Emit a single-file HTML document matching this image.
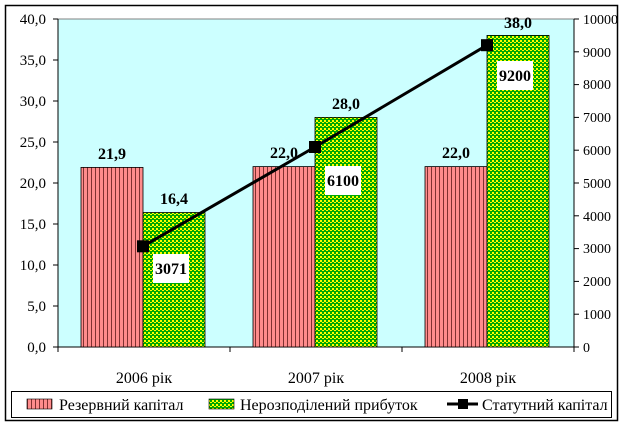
<!DOCTYPE html>
<html><head><meta charset="utf-8"><style>body{margin:0;background:#fff}svg{display:block}text{font-family:"Liberation Serif","DejaVu Serif",serif}</style></head><body>
<svg width="625" height="427" viewBox="0 0 625 427" xmlns="http://www.w3.org/2000/svg">
<defs>
<pattern id="red" width="4" height="4" patternUnits="userSpaceOnUse"><rect width="4" height="4" fill="#ff8c8c"/><rect x="3" width="1" height="4" fill="#803030"/></pattern>
<pattern id="grn" width="4" height="4" patternUnits="userSpaceOnUse"><rect width="4" height="4" fill="#00a800"/><rect x="0" y="0" width="2" height="2" fill="#ffff00"/><rect x="2" y="2" width="2" height="1" fill="#ffff00"/></pattern>
</defs>
<rect x="5.5" y="5.5" width="612" height="415" fill="#fff" stroke="#000" stroke-width="1.5"/>
<rect x="58" y="19" width="516" height="328" fill="#ccffff" stroke="#808080"/>
<g stroke="#000" fill="none">
<line x1="58" y1="19" x2="58" y2="347"/><line x1="574" y1="19" x2="574" y2="347"/><line x1="58" y1="347" x2="574" y2="347"/>
</g>
<g stroke="#000">
<line x1="53" y1="19" x2="58" y2="19"/><line x1="53" y1="60" x2="58" y2="60"/><line x1="53" y1="101" x2="58" y2="101"/><line x1="53" y1="142" x2="58" y2="142"/><line x1="53" y1="183" x2="58" y2="183"/><line x1="53" y1="224" x2="58" y2="224"/><line x1="53" y1="265" x2="58" y2="265"/><line x1="53" y1="306" x2="58" y2="306"/><line x1="53" y1="347" x2="58" y2="347"/>
<line x1="574" y1="19" x2="579" y2="19"/><line x1="574" y1="51.8" x2="579" y2="51.8"/><line x1="574" y1="84.6" x2="579" y2="84.6"/><line x1="574" y1="117.4" x2="579" y2="117.4"/><line x1="574" y1="150.2" x2="579" y2="150.2"/><line x1="574" y1="183" x2="579" y2="183"/><line x1="574" y1="215.8" x2="579" y2="215.8"/><line x1="574" y1="248.6" x2="579" y2="248.6"/><line x1="574" y1="281.4" x2="579" y2="281.4"/><line x1="574" y1="314.2" x2="579" y2="314.2"/><line x1="574" y1="347" x2="579" y2="347"/>
<line x1="58" y1="347" x2="58" y2="352"/><line x1="230" y1="347" x2="230" y2="352"/><line x1="402" y1="347" x2="402" y2="352"/><line x1="574" y1="347" x2="574" y2="352"/>
</g>
<g font-size="15" text-anchor="end">
<text x="46" y="24">40,0</text><text x="46" y="65">35,0</text><text x="46" y="106">30,0</text><text x="46" y="147">25,0</text><text x="46" y="188">20,0</text><text x="46" y="229">15,0</text><text x="46" y="270">10,0</text><text x="46" y="311">5,0</text><text x="46" y="352">0,0</text>
</g>
<g font-size="14" text-anchor="start">
<text x="583" y="24">10000</text><text x="583" y="57">9000</text><text x="583" y="89">8000</text><text x="583" y="122">7000</text><text x="583" y="155">6000</text><text x="583" y="188">5000</text><text x="583" y="221">4000</text><text x="583" y="253">3000</text><text x="583" y="286">2000</text><text x="583" y="319">1000</text><text x="583" y="352">0</text>
</g>
<g stroke="#000" stroke-width="0.8">
<rect x="81" y="167.4" width="62" height="179.6" fill="url(#red)"/>
<rect x="143" y="212.5" width="62" height="134.5" fill="url(#grn)"/>
<rect x="253" y="166.6" width="62" height="180.4" fill="url(#red)"/>
<rect x="315" y="117.4" width="62" height="229.6" fill="url(#grn)"/>
<rect x="425" y="166.6" width="62" height="180.4" fill="url(#red)"/>
<rect x="487" y="35.4" width="62" height="311.6" fill="url(#grn)"/>
</g>
<polyline points="143,246.3 315,147 487,45.2" fill="none" stroke="#000" stroke-width="3"/>
<rect x="137" y="240.3" width="12" height="12"/><rect x="309" y="141" width="12" height="12"/><rect x="481" y="39.2" width="12" height="12"/>
<g fill="#fff"><rect x="153" y="254" width="36" height="29"/><rect x="325" y="166" width="36" height="29"/><rect x="497" y="61" width="36" height="29"/></g>
<g font-size="16" font-weight="bold" text-anchor="middle">
<text x="112" y="159">21,9</text><text x="174" y="204">16,4</text>
<text x="284" y="158">22,0</text><text x="346" y="109">28,0</text>
<text x="456" y="158">22,0</text><text x="518" y="28">38,0</text>
<text x="171" y="274">3071</text><text x="343" y="186">6100</text><text x="515" y="81">9200</text>
</g>
<g font-size="16" text-anchor="middle"><text x="144" y="383">2006 рік</text><text x="316" y="383">2007 рік</text><text x="488" y="383">2008 рік</text></g>
<rect x="11.5" y="391.5" width="600" height="26" fill="#fff" stroke="#000"/>
<rect x="27" y="399" width="25" height="10" fill="url(#red)" stroke="#000" stroke-width="0.6"/>
<text x="59" y="410" font-size="16">Резервний капітал</text>
<rect x="209" y="399" width="25" height="10" fill="url(#grn)" stroke="#000" stroke-width="0.6"/>
<text x="240" y="410" font-size="16">Нерозподілений прибуток</text>
<line x1="447" y1="404" x2="478" y2="404" stroke="#000" stroke-width="3"/><rect x="458" y="399" width="10" height="10"/>
<text x="482" y="410" font-size="16">Статутний капітал</text>
</svg>
</body></html>
